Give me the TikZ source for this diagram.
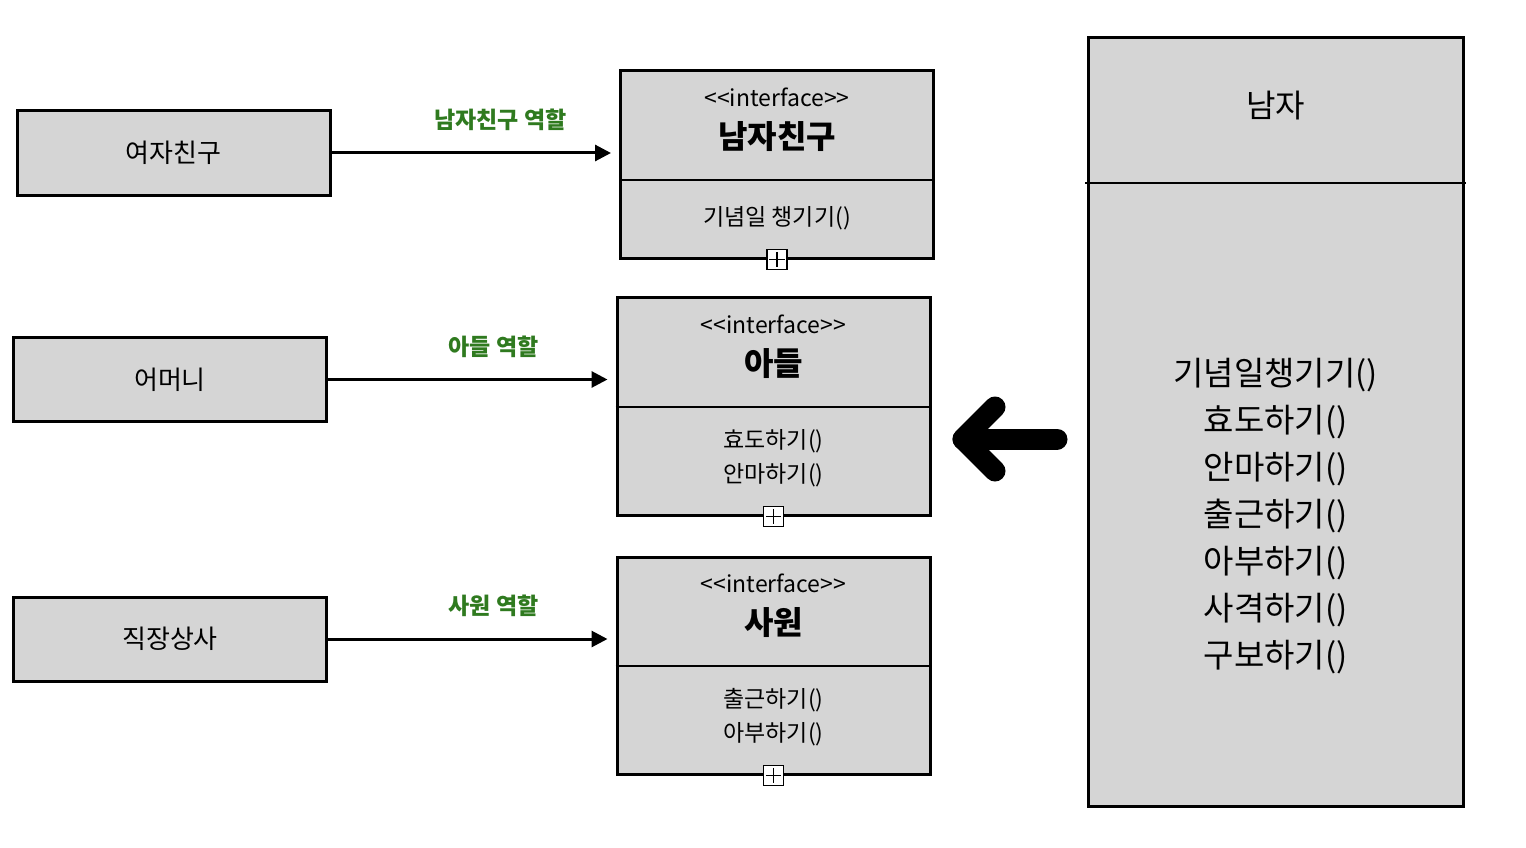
\documentclass[tikz,border=0pt]{standalone}
\usepackage{fontspec}
\setmainfont{Noto Sans CJK KR}
\newfontfamily\stereofont{Noto Sans CJK KR}[Ligatures=TeXOff]
\usetikzlibrary{positioning, arrows.meta}

\definecolor{boxgray}{HTML}{D5D5D5}
\definecolor{rolegreen}{HTML}{2F7A1F}

\tikzset{
  actor/.style={draw, line width=3pt, fill=boxgray, minimum width=313pt, minimum height=84pt, inner sep=0pt, font=\fontsize{26}{30}\selectfont},
  iface/.style={draw, line width=3pt, fill=boxgray, minimum width=313pt, inner sep=0pt},
  stereo/.style={font=\stereofont\fontsize{23}{26}\selectfont},
  ifname/.style={font=\fontsize{32}{36}\selectfont\bfseries},
  method/.style={align=center, font=\fontsize{23}{34}\selectfont},
  role/.style={line width=3pt, -{Triangle[length=16pt,width=16pt]}, shorten >=8pt},
  rolename/.style={text=rolegreen, font=\fontsize{23}{26}\selectfont\bfseries},
  plus/.style={draw, line width=1.2pt, fill=white, minimum size=20pt, inner sep=0pt}
}

\begin{document}
\begin{tikzpicture}[x=1pt, y=-1pt]
    \useasboundingbox (0,0) rectangle (1526,848);

    % people who need a role
    \node[actor] (gf) at (173.5,153) {여자친구};
    \node[actor] (mom) at (170,379.5) {어머니};
    \node[actor] (boss) at (170,639) {직장상사};

    % interfaces
    \node[iface, minimum height=187pt] (bf) at (777,164.5) {};
    \draw[line width=2pt] (bf.west |- 0,180) -- (bf.east |- 0,180);
    \node[stereo] (bfst) at (777,97) {<<interface>>};
    \node[ifname] (bfname) at (777,137) {남자친구};
    \node[method] (bfm) at (777,218) {기념일 챙기기()};

    \node[iface, minimum height=218pt] (son) at (773.5,406) {};
    \draw[line width=2pt] (son.west |- 0,407) -- (son.east |- 0,407);
    \node[stereo] (sonst) at (773.5,324) {<<interface>>};
    \node[ifname] (sonname) at (773.5,364) {아들};
    \node[method] (sonm) at (773.5,458) {효도하기()\\안마하기()};

    \node[iface, minimum height=217pt] (emp) at (773.5,665.5) {};
    \draw[line width=2pt] (emp.west |- 0,666) -- (emp.east |- 0,666);
    \node[stereo] (empst) at (773.5,583) {<<interface>>};
    \node[ifname] (empname) at (773.5,623) {사원};
    \node[method] (empm) at (773.5,717.5) {출근하기()\\아부하기()};

    % collapse markers
    \foreach \n in {bf, son, emp} {
        \node[plus] (\n plus) at (\n.south) {};
        \draw[line width=1.2pt] ([yshift=-3pt]\n plus.north) -- ([yshift=3pt]\n plus.south);
        \draw[line width=1.2pt] ([xshift=3pt]\n plus.west) -- ([xshift=-3pt]\n plus.east);
    }

    % roles
    \draw[role] (gf.east) -- (gf.east -| bf.west) node[rolename, midway, above=17pt, xshift=25pt] {남자친구 역할};
    \draw[role] (mom.east) -- (mom.east -| son.west) node[rolename, midway, above=17pt, xshift=22pt] {아들 역할};
    \draw[role] (boss.east) -- (boss.east -| emp.west) node[rolename, midway, above=17pt, xshift=22pt] {사원 역할};

    % the man
    \node[draw, line width=3pt, fill=boxgray, minimum width=375pt, minimum height=768pt] (man) at (1275.5,422) {};
    \draw[line width=2pt] (1085,183) -- (1466,183);
    \node[font=\fontsize{32}{36}\selectfont] (manname) at (1275.5,106) {남자};
    \node[align=center, font=\fontsize{33}{47}\selectfont] (manm) at (1275.5,516)
        {기념일챙기기()\\효도하기()\\안마하기()\\출근하기()\\아부하기()\\사격하기()\\구보하기()};

    % big arrow
    \coordinate (tail) at (1057,439);
    \coordinate (tip) at (963,439);
    \draw[line width=21pt, line cap=round, line join=round] (tail) -- (tip);
    \draw[line width=21pt, line cap=round, line join=round] (995,407) -- (tip) -- (995,471);

\end{tikzpicture}
\end{document}
